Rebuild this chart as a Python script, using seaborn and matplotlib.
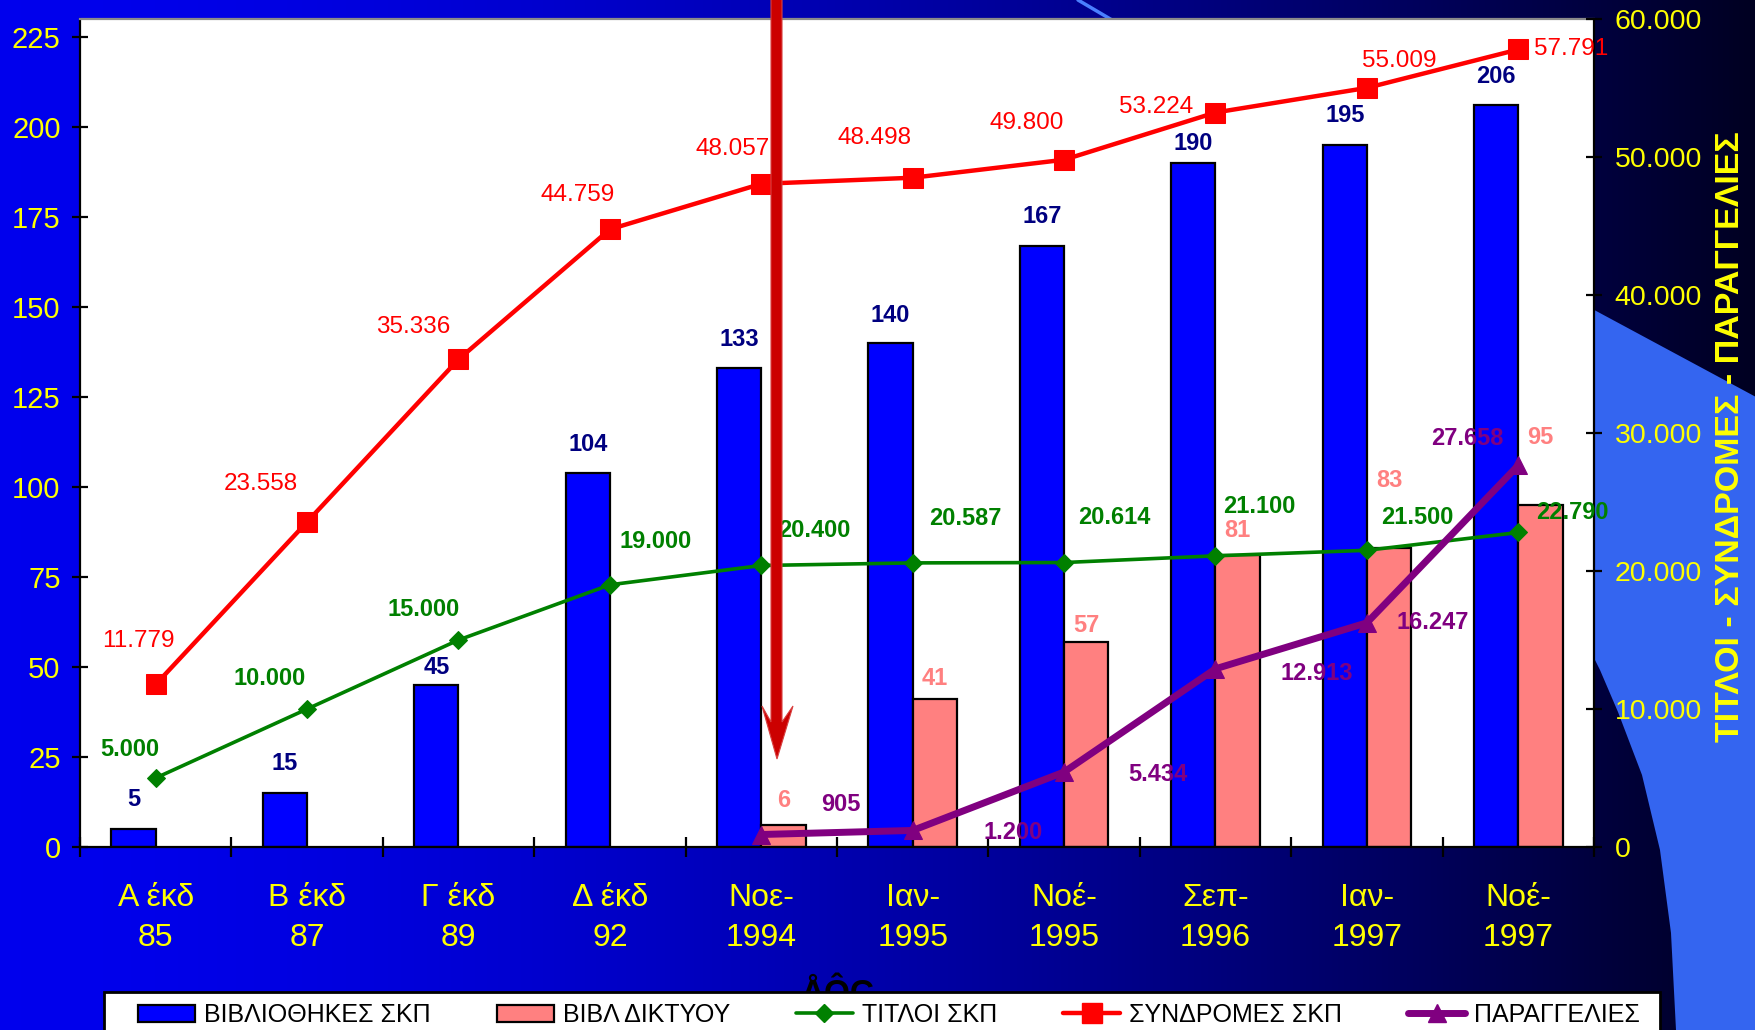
import numpy as np
import pandas as pd
import matplotlib
matplotlib.use("Agg")
import matplotlib.pyplot as plt
import seaborn as sns
from matplotlib.patches import Polygon, Patch, Rectangle
from matplotlib.lines import Line2D
from matplotlib.ticker import FuncFormatter

# ---- data ----
categories = ["Α έκδ\n85", "Β έκδ\n87", "Γ έκδ\n89", "Δ έκδ\n92", "Νοε-\n1994",
              "Ιαν-\n1995", "Νοέ-\n1995", "Σεπ-\n1996", "Ιαν-\n1997", "Νοέ-\n1997"]
libraries = [5, 15, 45, 104, 133, 140, 167, 190, 195, 206]
network_libs = [np.nan, np.nan, np.nan, np.nan, 6, 41, 57, 81, 83, 95]
titles = [5000, 10000, 15000, 19000, 20400, 20587, 20614, 21100, 21500, 22790]
subscriptions = [11779, 23558, 35336, 44759, 48057, 48498, 49800, 53224, 55009, 57791]
orders = [np.nan, np.nan, np.nan, np.nan, 905, 1200, 5434, 12913, 16247, 27658]

series_names = ["ΒΙΒΛΙΟΘΗΚΕΣ ΣΚΠ", "ΒΙΒΛ ΔΙΚΤΥΟΥ", "ΤΙΤΛΟΙ ΣΚΠ", "ΣΥΝΔΡΟΜΕΣ ΣΚΠ", "ΠΑΡΑΓΓΕΛΙΕΣ"]
right_label = "ΤΙΤΛΟΙ - ΣΥΝΔΡΟΜΕΣ - ΠΑΡΑΓΓΕΛΙΕΣ"
x_label = "ÅÔÇ"

# label offsets in pixels (dx, dy), purely cosmetic
red_off = [(-17, 43), (-46, 38), (-45, 32), (-32, 34), (-29, 35),
           (-38, 40), (-37, 37), (-59, 6), (32, 27), (53, 0)]
green_off = [(-26, 28), (-37, 30), (-35, 30), (46, 43), (53, 35),
             (53, 44), (50, 45), (44, 49), (50, 33), (54, 20)]
purple_off = [None, None, None, None, (80, 30), (100, -2), (94, -2),
              (101, -5), (66, 0), (-51, 27)]
blue_dy = [29, 29, 17, 28, 29, 28, 29, 19, 29, 29]
salmon_dy = [0, 0, 0, 0, 25, 21, 16, 25, 68, 67]

W, H = 1756, 1030
BLUE, SALMON = "#0000ff", "#ff8080"
GREEN, RED, PURPLE = "#008000", "#ff0000", "#800080"
YELLOW = "#ffff00"

sns.set_style("white")
plt.rcParams["font.family"] = ["Liberation Sans", "DejaVu Sans"]


def fmt(v):
    return f"{v:,.0f}".replace(",", ".")


def px(x, y):
    return (x / W, 1 - y / H)


fig = plt.figure(figsize=(W / 100, H / 100), dpi=100)

# ---- slide background ----
bg = fig.add_axes([0, 0, 1, 1], zorder=-10)
bg.set_axis_off()
t = np.linspace(0, 1, 600)
grad = np.zeros((2, 600, 3))
grad[:, :, 2] = 0.93 - 0.80 * t ** 1.6
bg.imshow(grad, extent=[0, 1, 0, 1], aspect="auto")
shape = [(1585, 305), (1756, 397), (1756, 1030), (1676, 1030), (1671, 933),
         (1660, 850), (1642, 775), (1618, 712), (1600, 670), (1585, 640)]
bg.add_patch(Polygon([px(*p) for p in shape], closed=True, facecolor="#3465f0",
                     edgecolor="none", transform=bg.transAxes))
bg.plot([1078 / W, 1112 / W], [1, 1 - 20 / H], color="#4a7fff", lw=2.5,
        transform=bg.transAxes)
bg.set_xlim(0, 1)
bg.set_ylim(0, 1)

# ---- main axes with bars ----
ax = fig.add_axes([80 / W, 1 - 847 / H, (1594 - 80) / W, (847 - 19) / H])
ax.set_facecolor("white")

bars = pd.DataFrame({
    "cat": categories * 2,
    "series": [series_names[0]] * len(categories) + [series_names[1]] * len(categories),
    "value": libraries + network_libs,
}).dropna()

bar_width = 0.586
sns.barplot(data=bars, x="cat", y="value", hue="series", order=categories,
            hue_order=series_names[:2], palette=[BLUE, SALMON], width=bar_width,
            gap=0, saturation=1, edgecolor="black", linewidth=1.6,
            errorbar=None, legend=False, ax=ax)

half = bar_width / 4
for i, v in enumerate(libraries):
    ax.annotate(str(v), (i - half, v), xytext=(0, blue_dy[i]), textcoords="offset pixels",
                ha="center", va="center", color="#000080", fontsize=17,
                fontweight="bold")
for i, v in enumerate(network_libs):
    if np.isnan(v):
        continue
    ax.annotate(str(int(v)), (i + half, v), xytext=(0, salmon_dy[i]),
                textcoords="offset pixels", ha="center", va="center",
                color=SALMON, fontsize=17, fontweight="bold")

ax.set_ylim(0, 230)
ax.set_yticks(np.arange(0, 226, 25))
ax.set_xlabel("")
ax.set_ylabel("")

# ---- secondary axis with lines ----
ax2 = ax.twinx()
pos = np.arange(len(categories))
sns.lineplot(x=pos, y=titles, ax=ax2, color=GREEN, lw=2.6, marker="D",
             markersize=9.5, markeredgecolor=GREEN, legend=False)
sns.lineplot(x=pos, y=subscriptions, ax=ax2, color=RED, lw=3.2, marker="s",
             markersize=14, markeredgecolor=RED, legend=False)
ord_idx = [i for i, v in enumerate(orders) if not np.isnan(v)]
sns.lineplot(x=pos[ord_idx], y=[orders[i] for i in ord_idx], ax=ax2, color=PURPLE,
             lw=5, marker="^", markersize=13, markeredgecolor=PURPLE, legend=False)

for i, v in enumerate(titles):
    ax2.annotate(fmt(v), (i, v), xytext=green_off[i], textcoords="offset pixels",
                 ha="center", va="center", color=GREEN, fontsize=17,
                 fontweight="bold", annotation_clip=False)
for i, v in enumerate(subscriptions):
    ax2.annotate(fmt(v), (i, v), xytext=red_off[i], textcoords="offset pixels",
                 ha="center", va="center", color=RED, fontsize=17.5,
                 annotation_clip=False)
for i in ord_idx:
    ax2.annotate(fmt(orders[i]), (i, orders[i]), xytext=purple_off[i],
                 textcoords="offset pixels", ha="center", va="center",
                 color=PURPLE, fontsize=17, fontweight="bold",
                 annotation_clip=False)

ax2.set_ylim(0, 60000)
ax2.set_yticks(np.arange(0, 60001, 10000))
ax2.yaxis.set_major_formatter(FuncFormatter(lambda v, p: fmt(v)))
ax2.set_ylabel("")
ax.set_xlim(-0.5, len(categories) - 0.5)

# ---- ticks & spines ----
ax.set_xticks(np.arange(-0.5, len(categories), 1))
ax.set_xticklabels([])
ax.set_xticks(pos, minor=True)
ax.set_xticklabels(categories, minor=True, linespacing=1.45)
ax.tick_params(axis="x", which="major", direction="inout", length=14, width=1.6,
               color="black", bottom=True)
ax.tick_params(axis="x", which="minor", length=0, pad=26, labelsize=23,
               labelcolor=YELLOW, bottom=True)
ax.tick_params(axis="y", direction="inout", length=12, width=1.6, color="black",
               labelsize=21, labelcolor=YELLOW, pad=8, left=True)
ax2.tick_params(axis="y", direction="inout", length=12, width=1.6, color="black",
                labelsize=20.5, labelcolor=YELLOW, pad=9, right=True)

for name, sp in ax.spines.items():
    sp.set_visible(True)
    sp.set_color("black")
    sp.set_linewidth(1.6)
ax.spines["top"].set_color("#8a8a8a")
ax.spines["right"].set_visible(False)
for name in ["left", "top", "bottom"]:
    ax2.spines[name].set_visible(False)
ax2.spines["right"].set_color("black")
ax2.spines["right"].set_linewidth(1.6)

fig.text(*px(1731, 437), right_label, rotation=90, ha="center", va="center",
         color=YELLOW, fontsize=24.5, fontweight="bold")
fig.text(*px(837, 1003), x_label, ha="center", va="baseline", color="black",
         fontsize=24, fontweight="bold")

# ---- legend (frame drawn separately so the side padding can be wider) ----
frame_x0, frame_y0 = px(104, 1040)
fig.add_artist(Rectangle((frame_x0, frame_y0), (1660 - 104) / W, 48 / H,
                         transform=fig.transFigure, facecolor="white",
                         edgecolor="black", linewidth=2, zorder=4.5))
handles = [
    Patch(facecolor=BLUE, edgecolor="black", linewidth=1.6, label=series_names[0]),
    Patch(facecolor=SALMON, edgecolor="black", linewidth=1.6, label=series_names[1]),
    Line2D([], [], color=GREEN, lw=2.6, marker="D", markersize=9.5, label=series_names[2]),
    Line2D([], [], color=RED, lw=3.2, marker="s", markersize=14, label=series_names[3]),
    Line2D([], [], color=PURPLE, lw=5, marker="^", markersize=13, label=series_names[4]),
]
x0, y0 = px(133, 998)
leg = fig.legend(handles=handles, loc="upper left",
                 bbox_to_anchor=(x0, y0, (1645 - 133) / W, 0), mode="expand",
                 ncol=5, fontsize=18, frameon=False,
                 handlelength=2.3, handletextpad=0.35, borderpad=0.2,
                 borderaxespad=0, columnspacing=1.0)
for txt in leg.get_texts():
    txt.set_color("black")

# ---- red arrow ----
arrow = [(771, -5), (782, -5), (782, 722), (793, 706), (777, 759),
         (762, 706), (771, 722)]
fig.add_artist(Polygon([px(*p) for p in arrow], closed=True, facecolor="#cc0000",
                       edgecolor="#d84040", linewidth=0.8,
                       transform=fig.transFigure, zorder=20))

fig.savefig("out.png", dpi=100)
